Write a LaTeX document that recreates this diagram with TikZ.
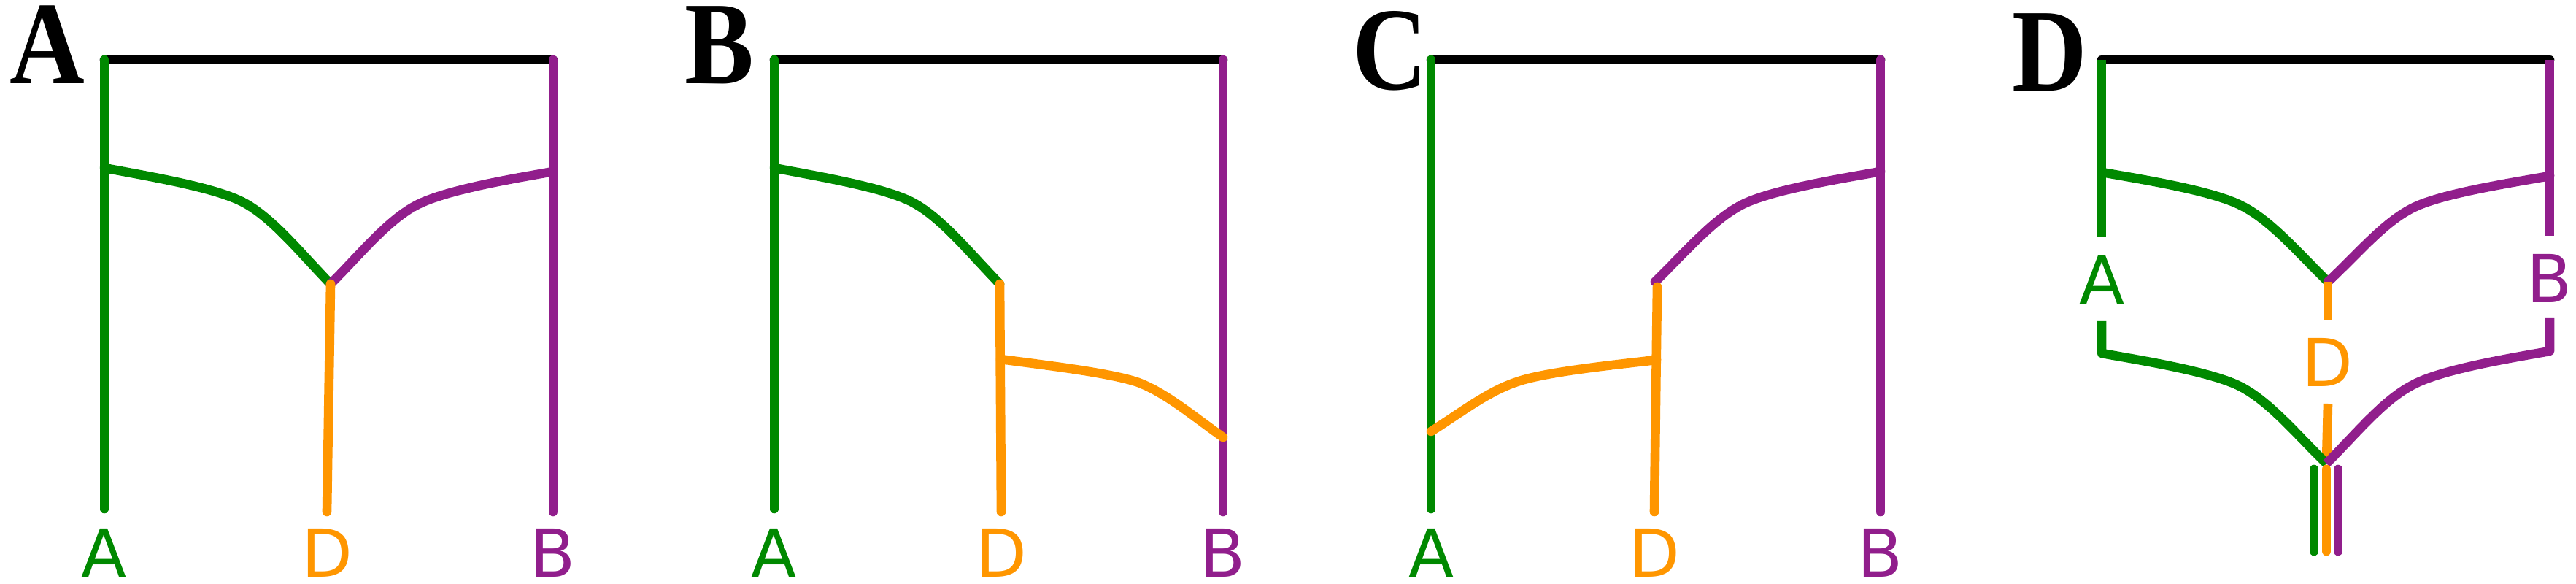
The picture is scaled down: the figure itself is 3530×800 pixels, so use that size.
\documentclass[tikz,border=0pt]{standalone}
\usepackage{fontspec}
\newfontfamily\taxonfont{DejaVu Sans}
\newfontfamily\panelfont{Liberation Serif}
\definecolor{taxA}{RGB}{0,137,0}
\definecolor{taxB}{RGB}{145,30,140}
\definecolor{taxD}{RGB}{255,150,0}
\tikzset{every path/.style={line width=3.6pt, line cap=round, line join=round},
  every node/.style={inner sep=0pt},
  taxon/.style={anchor=base, font=\taxonfont\fontsize{25.8}{30}\selectfont},
  panel/.style={anchor=base west, font=\panelfont\bfseries\fontsize{46}{50}\selectfont},
  cut/.style={line cap=butt}}

\begin{document}
\begin{tikzpicture}[x=0.1mm, y=-0.1mm]
  \useasboundingbox (0,0) rectangle (3530,800);
  \begin{scope}[shift={(143,0)}]
    \coordinate (a)  at (0,82);
    \coordinate (a1) at (0,230);
    \coordinate (a2) at (0,697);
    \coordinate (b)  at (615,82);
    \coordinate (b1) at (615,235);
    \coordinate (b2) at (615,701);
    \coordinate (d)  at (310,389);
    \coordinate (d2) at (305,701);
    \draw (a) -- (b);
    \draw[taxA] (a) -- (a2);
    \draw[taxB] (b) -- (b2);
    \draw[taxA] (a1) .. controls (51,240) and (152,256) ..
          (192,278) .. controls (232,300) and (270,348) .. (d);
    \draw[taxB] (b1) .. controls (565,244) and (466,260) ..
          (426,282) .. controls (387,303) and (350,349) .. (d);
    \draw[taxD] (d) -- (d2);
    \node[taxon, text=taxA] (la) at (0,791) {A};
    \node[taxon, text=taxD] (ld) at (305,791) {D};
    \node[taxon, text=taxB] (lb) at (615,791) {B};
    \node[panel] (pA) at (-136,115) {\scalebox{0.88}[1]{A}};
  \end{scope}
  \begin{scope}[shift={(1061,0)}]
    \coordinate (a)  at (0,82);
    \coordinate (a1) at (0,230);
    \coordinate (a2) at (0,697);
    \coordinate (b)  at (615,82);
    \coordinate (b1) at (615,599);
    \coordinate (b2) at (615,701);
    \coordinate (d)  at (309,389);
    \coordinate (d1) at (310,492);
    \coordinate (d2) at (311,701);
    \draw (a) -- (b);
    \draw[taxA] (a) -- (a2);
    \draw[taxB] (b) -- (b2);
    \draw[taxA] (a1) .. controls (50,240) and (151,256) ..
          (191,278) .. controls (231,300) and (269,348) .. (d);
    \draw[taxD] (d) -- (d2);
    \draw[taxD] (d1) .. controls (360,499) and (459,510) ..
          (499,524) .. controls (538,539) and (575,571) .. (b1);
    \node[taxon, text=taxA] (la) at (0,791) {A};
    \node[taxon, text=taxD] (ld) at (311,791) {D};
    \node[taxon, text=taxB] (lb) at (615,791) {B};
    \node[panel] (pB) at (-129,115) {\scalebox{0.88}[1]{B}};
  \end{scope}
  \begin{scope}[shift={(1961,0)}]
    \coordinate (a)  at (0,82);
    \coordinate (a1) at (0,591);
    \coordinate (a2) at (0,697);
    \coordinate (b)  at (616,82);
    \coordinate (b1) at (616,235);
    \coordinate (b2) at (616,701);
    \coordinate (d)  at (307,386);
    \coordinate (d0) at (310,393);
    \coordinate (d1) at (309,493);
    \coordinate (d2) at (306,701);
    \draw (a) -- (b);
    \draw[taxA] (a) -- (a2);
    \draw[taxB] (b) -- (b2);
    \draw[taxB] (b1) .. controls (566,244) and (465,260) ..
          (425,281) .. controls (385,302) and (347,347) .. (d);
    \draw[taxD] (d0) -- (d2);
    \draw[taxD] (d1) .. controls (259,499) and (158,509) ..
          (118,523) .. controls (78,536) and (40,566) .. (a1);
    \node[taxon, text=taxA] (la) at (0,791) {A};
    \node[taxon, text=taxD] (ld) at (306,791) {D};
    \node[taxon, text=taxB] (lb) at (616,791) {B};
    \node[panel] (pC) at (-114,123) {\scalebox{0.88}[1]{C}};
  \end{scope}
  \begin{scope}[shift={(2880,0)}]
    \coordinate (a)  at (0,82);
    \coordinate (a1) at (0,236);
    \coordinate (a2) at (0,325);
    \coordinate (a3) at (0,440);
    \coordinate (a4) at (0,484);
    \coordinate (b)  at (614,82);
    \coordinate (b1) at (614,241);
    \coordinate (b2) at (614,323);
    \coordinate (b3) at (614,435);
    \coordinate (b4) at (614,481);
    \coordinate (d)  at (310,386);
    \coordinate (d1) at (310,438);
    \coordinate (d3) at (310,553);
    \coordinate (e)  at (308,635);
    \draw (a) -- (b);
    \draw[taxA, cut] (a) -- (a2);
    \draw[taxB, cut] (b) -- (b2);
    \draw[taxA] (a1) .. controls (51,245) and (152,261) ..
          (192,282) .. controls (232,302) and (270,347) .. (d);
    \draw[taxB] (b1) .. controls (564,250) and (465,265) ..
          (426,285) .. controls (386,305) and (350,349) .. (d);
    \draw[taxD, cut] (d) -- (d1);
    \draw[taxD, cut] (d3) -- (e);
    \draw[taxA, cut] (a3) -- (a4) .. controls (50,493) and (151,509) ..
          (191,530) .. controls (231,551) and (268,596) .. (e);
    \draw[taxB, cut] (b3) -- (b4) .. controls (564,490) and (464,506) ..
          (425,528) .. controls (385,549) and (348,595) .. (e);
    \draw[taxA] (291,643) -- (291,755);
    \draw[taxD] (308,643) -- (308,755);
    \draw[taxB] (324,643) -- (324,755);
    \node[taxon, text=taxA] (la) at (0,417) {A};
    \node[taxon, text=taxD] (ld) at (309,530) {D};
    \node[taxon, text=taxB] (lb) at (614,415) {B};
    \node[panel] (pD) at (-129,125) {\scalebox{0.88}[1]{D}};
  \end{scope}
\end{tikzpicture}
\end{document}
